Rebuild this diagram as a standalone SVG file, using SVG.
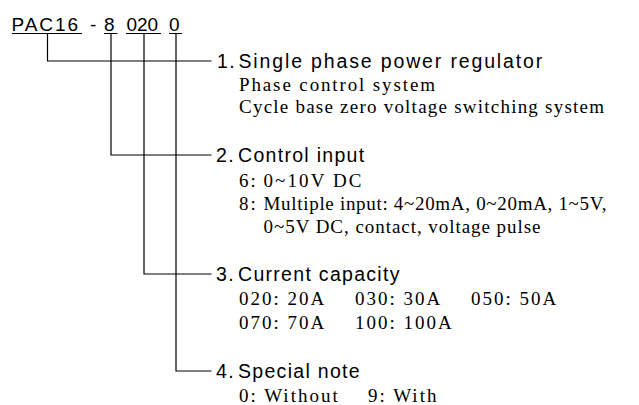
<svg xmlns="http://www.w3.org/2000/svg" width="639" height="405" viewBox="0 0 639 405">
<style>
.t{font-family:"Liberation Sans",Arial,sans-serif;font-size:19px;letter-spacing:1.5px;fill:#000}
.h{font-family:"Liberation Sans",Arial,sans-serif;font-size:19.5px;letter-spacing:1.3px;fill:#000}
.s{font-family:"Liberation Serif","Times New Roman",serif;font-size:19px;letter-spacing:2px;fill:#000}
.ln{fill:none;stroke:#000;stroke-width:1.2}
</style>
<rect width="639" height="405" fill="#fff"/>
<g id="model">
<text class="t" x="11.5" y="31" textLength="68">PAC16</text>
<text class="t" x="90" y="31">-</text>
<text class="t" x="104" y="31">8</text>
<text class="t" x="126.5" y="31" textLength="33">020</text>
<text class="t" x="169" y="31">0</text>
<path class="ln" d="M12,33.5H82M104,33.5H117.5M126,33.5H161M169,33.5H182"/>
</g>
<g id="connectors">
<path class="ln" d="M47.5,33.5V61H211.5"/>
<path class="ln" d="M111,33.5V155H211.5"/>
<path class="ln" d="M144,33.5V274H211.5"/>
<path class="ln" d="M176,33.5V371H211.5"/>
</g>
<g id="item1">
<text class="h" x="217" y="67.5">1.</text>
<text class="h" x="238.5" y="67.5" textLength="305">Single phase power regulator</text>
<text class="s" x="239" y="90.5" textLength="198">Phase control system</text>
<text class="s" x="239" y="113" textLength="367">Cycle base zero voltage switching system</text>
</g>
<g id="item2">
<text class="h" x="216" y="161.5">2.</text>
<text class="h" x="238" y="161.5">Control input</text>
<text class="s" x="239" y="187">6:</text>
<text class="s" x="263.5" y="187" textLength="100">0~10V DC</text>
<text class="s" x="239" y="210">8:</text>
<text class="s" x="263.5" y="210" textLength="345">Multiple input: 4~20mA, 0~20mA, 1~5V,</text>
<text class="s" x="263.5" y="233" textLength="279">0~5V DC, contact, voltage pulse</text>
</g>
<g id="item3">
<text class="h" x="216" y="280.5">3.</text>
<text class="h" x="238" y="280.5">Current capacity</text>
<text class="s" x="239" y="305">020: 20A</text>
<text class="s" x="355" y="305">030: 30A</text>
<text class="s" x="471" y="305">050: 50A</text>
<text class="s" x="239" y="328.5">070: 70A</text>
<text class="s" x="355" y="328.5">100: 100A</text>
</g>
<g id="item4">
<text class="h" x="216" y="378">4.</text>
<text class="h" x="238" y="378">Special note</text>
<text class="s" x="239" y="401.5">0: Without</text>
<text class="s" x="368" y="401.5">9: With</text>
</g>
</svg>
